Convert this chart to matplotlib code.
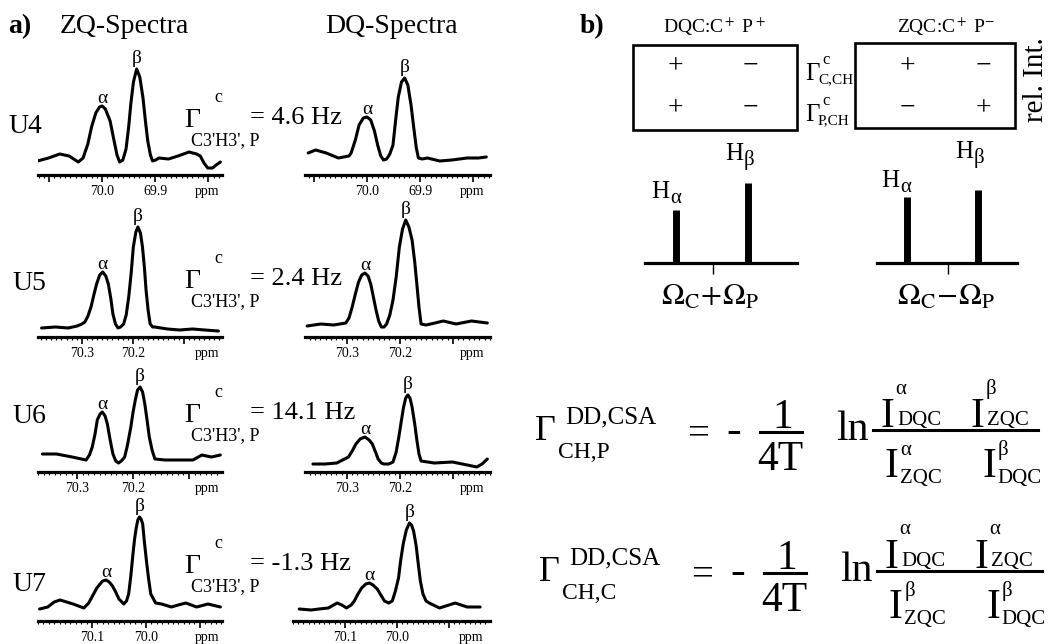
import numpy as np
import matplotlib.pyplot as plt
from matplotlib.patches import Rectangle
from matplotlib.ticker import MultipleLocator

plt.rcParams['font.family'] = ['Liberation Serif', 'DejaVu Serif']
plt.rcParams['mathtext.fontset'] = 'stix'

W, H = 1050, 644

# ------------------------------------------------------------
# data (ppm, intensity in px above axis)
# ------------------------------------------------------------
rows = ['U4', 'U5', 'U6', 'U7']
gamma_hz = ['4.6', '2.4', '14.1', '-1.3']
tick_text = [['70.0', '69.9'], ['70.3', '70.2'], ['70.3', '70.2'], ['70.1', '70.0']]

zq_u4_ppm = [70.122, 70.101, 70.080, 70.0625, 70.045, 70.036, 70.027, 70.020, 70.012, 70.005,
             70.000, 69.994, 69.985, 69.979, 69.972, 69.967, 69.961, 69.955, 69.950, 69.946,
             69.941, 69.935, 69.929, 69.923, 69.918, 69.914, 69.909, 69.905, 69.899, 69.893,
             69.875, 69.857, 69.836, 69.822, 69.815, 69.808, 69.801, 69.792, 69.785, 69.777]
zq_u4_int = [14, 17, 21, 19, 13, 17, 31, 48, 62, 68,
             69, 66, 54, 38, 20, 13, 15, 26, 48, 71,
             93, 106, 98, 77, 52, 34, 20, 14, 15, 17,
             16, 19, 23, 21, 19, 12, 7, 7, 10, 13]

dq_u4_ppm = [70.111, 70.097, 70.077, 70.054, 70.034, 70.030, 70.022, 70.015, 70.007, 70.000,
             69.993, 69.986, 69.980, 69.974, 69.969, 69.963, 69.957, 69.951, 69.946, 69.941,
             69.935, 69.929, 69.923, 69.917, 69.912, 69.907, 69.903, 69.896, 69.886, 69.863,
             69.840, 69.811, 69.790, 69.775]
dq_u4_int = [22, 25, 22, 17, 19, 22, 35, 50, 57, 58,
             55, 44, 30, 19, 15, 16, 21, 30, 55, 78,
             93, 97, 90, 70, 48, 27, 17, 16, 17, 14,
             15, 17, 17, 18]

zq_u5_ppm = [70.379, 70.352, 70.327, 70.309, 70.300, 70.294, 70.288, 70.282, 70.276, 70.271,
             70.265, 70.259, 70.253, 70.248, 70.243, 70.239, 70.234, 70.229, 70.224, 70.218,
             70.213, 70.208, 70.203, 70.199, 70.194, 70.190, 70.185, 70.181, 70.177, 70.174,
             70.170, 70.166, 70.161, 70.157, 70.132, 70.108, 70.083, 70.059, 70.032]
zq_u5_int = [9, 10, 9, 11, 13, 15, 21, 30, 43, 53,
             62, 65, 61, 53, 38, 23, 13, 9, 10, 13,
             22, 40, 65, 90, 105, 110, 104, 90, 68, 47,
             27, 13, 10, 10, 8, 7, 8, 7, 6]

dq_u5_ppm = [70.375, 70.349, 70.325, 70.302, 70.296, 70.290, 70.284, 70.278, 70.272, 70.266,
             70.260, 70.255, 70.250, 70.245, 70.240, 70.235, 70.230, 70.225, 70.219, 70.213,
             70.207, 70.201, 70.195, 70.189, 70.183, 70.177, 70.172, 70.168, 70.164, 70.160,
             70.151, 70.142, 70.118, 70.094, 70.065, 70.035]
dq_u5_int = [11, 13, 12, 14, 19, 30, 43, 55, 62, 64,
             61, 53, 40, 27, 16, 10, 10, 13, 22, 37,
             60, 90, 108, 117, 110, 97, 75, 53, 30, 13,
             12, 13, 16, 13, 16, 14]

zq_u6_ppm = [70.362, 70.337, 70.309, 70.284, 70.278, 70.273, 70.268, 70.264, 70.259, 70.255,
             70.250, 70.246, 70.241, 70.236, 70.231, 70.226, 70.221, 70.215, 70.210, 70.204,
             70.200, 70.196, 70.192, 70.1875, 70.183, 70.179, 70.175, 70.171, 70.166, 70.161,
             70.143, 70.116, 70.093, 70.077, 70.060, 70.044]
zq_u6_int = [18, 18, 15, 12, 17, 25, 38, 52, 58, 60,
             56, 48, 32, 18, 11, 9, 11, 15, 27, 45,
             60, 72, 82, 85, 80, 68, 52, 35, 22, 13,
             12, 12, 12, 17, 15, 17]

dq_u6_ppm = [70.364, 70.341, 70.319, 70.297, 70.290, 70.283, 70.275, 70.266, 70.258, 70.252,
             70.246, 70.241, 70.235, 70.230, 70.221, 70.213, 70.207, 70.202, 70.197, 70.193,
             70.189, 70.185, 70.181, 70.177, 70.172, 70.168, 70.164, 70.160, 70.135, 70.101,
             70.073, 70.055, 70.045, 70.035]
dq_u6_int = [8, 8, 9, 15, 21, 28, 33, 35, 32, 28,
             20, 13, 9, 8, 8, 10, 20, 35, 52, 65,
             74, 77, 74, 65, 48, 32, 18, 11, 9, 10,
             7, 5, 8, 13]

zq_u7_ppm = [70.197, 70.182, 70.170, 70.159, 70.147, 70.135, 70.115, 70.106, 70.097, 70.091,
             70.085, 70.080, 70.074, 70.068, 70.062, 70.056, 70.050, 70.041, 70.036, 70.032,
             70.028, 70.024, 70.021, 70.018, 70.015, 70.012, 70.009, 70.006, 70.003, 69.999,
             69.995, 69.991, 69.982, 69.971, 69.953, 69.940, 69.926, 69.916, 69.906, 69.885,
             69.862]
zq_u7_int = [12, 14, 19, 21, 19, 17, 13, 18, 27, 33,
             37, 40, 41, 39, 35, 29, 22, 17, 20, 27,
             45, 67, 82, 93, 101, 104, 102, 97, 80, 60,
             42, 27, 18, 17, 14, 16, 18, 16, 14, 17,
             14]

dq_u7_ppm = [70.188, 70.165, 70.150, 70.132, 70.115, 70.106, 70.097, 70.088, 70.082, 70.075,
             70.068, 70.060, 70.053, 70.046, 70.038, 70.031, 70.024, 70.016, 70.009, 70.003,
             69.997, 69.993, 69.988, 69.982, 69.976, 69.972, 69.968, 69.963, 69.959, 69.955,
             69.950, 69.944, 69.938, 69.918, 69.888, 69.865, 69.840]
dq_u7_int = [12, 11, 12, 13, 18, 16, 13, 16, 20, 27,
             33, 37, 38, 36, 32, 26, 20, 18, 20, 30,
             43, 60, 77, 91, 98, 96, 90, 75, 57, 40,
             27, 20, 18, 13, 18, 14, 14]

zq_spectra = [(zq_u4_ppm, zq_u4_int), (zq_u5_ppm, zq_u5_int),
              (zq_u6_ppm, zq_u6_int), (zq_u7_ppm, zq_u7_int)]
dq_spectra = [(dq_u4_ppm, dq_u4_int), (dq_u5_ppm, dq_u5_int),
              (dq_u6_ppm, dq_u6_int), (dq_u7_ppm, dq_u7_int)]

zq_alpha = [70.000, 70.259, 70.255, 70.074]
zq_beta = [69.935, 70.190, 70.1875, 70.012]
dq_alpha = [70.000, 70.266, 70.266, 70.053]
dq_beta = [69.929, 70.189, 70.185, 69.976]

zq_lims = [(70.121, 69.774), (70.386, 70.025), (70.370, 70.041), (70.200, 69.859)]
dq_lims = [(70.117, 69.768), (70.379, 70.030), (70.379, 70.030), (70.200, 69.821)]

# panel b: stick spectra (offset from centre tick, relative intensity)
dqc_pos = [-37, 35]
dqc_int = [53, 80]
zqc_pos = [-41, 30]
zqc_int = [66, 73]

dqc_signs = [['+', '−'], ['+', '−']]
zqc_signs = [['+', '−'], ['−', '+']]

eq_sub = ['CH,P', 'CH,C']
eq_num = [[('α', 'DQC'), ('β', 'ZQC')], [('α', 'DQC'), ('α', 'ZQC')]]
eq_den = [[('α', 'ZQC'), ('β', 'DQC')], [('β', 'ZQC'), ('β', 'DQC')]]

# ------------------------------------------------------------
fig = plt.figure(figsize=(W / 100, H / 100), dpi=100)
fig.patch.set_facecolor('white')

SPEC_H = 125
axis_y = [175, 337, 472, 621]


def spectrum(x0, x1, y_base, lim, ppm, inten, labels, a_pk, b_pk, ppm_frac):
    ax = fig.add_axes([x0 / W, 1 - y_base / H, (x1 - x0) / W, SPEC_H / H])
    ppm = np.array(ppm)
    inten = np.array(inten)
    ax.plot(ppm, inten, color='black', lw=2.2,
            solid_joinstyle='round', solid_capstyle='round')
    ax.set_xlim(*lim)
    ax.set_ylim(0, SPEC_H)
    ax.patch.set_visible(False)
    for s in ['top', 'right', 'left']:
        ax.spines[s].set_visible(False)
    ax.spines['bottom'].set_linewidth(2.3)
    ax.set_yticks([])

    lo, hi = min(lim), max(lim)
    majors = np.round(np.arange(np.ceil(lo * 10) / 10, hi, 0.1), 1)
    ax.set_xticks(majors)
    ax.set_xticklabels([f'{m:.1f}' if f'{m:.1f}' in labels else '' for m in majors])
    ax.xaxis.set_minor_locator(MultipleLocator(0.01))
    ax.tick_params(axis='x', which='major', direction='out', length=5,
                   width=1.2, pad=2, labelsize=10)
    ax.tick_params(axis='x', which='minor', direction='out', length=2.2, width=0.8)
    ax.annotate('ppm', xy=(ppm_frac, 0), xycoords='axes fraction',
                xytext=(0, -7), textcoords='offset points',
                ha='center', va='top', fontsize=10)

    ia = np.argmin(np.abs(ppm - a_pk))
    ib = np.argmin(np.abs(ppm - b_pk))
    ax.text(ppm[ia], inten[ia] + 3, 'α', ha='center', va='baseline', fontsize=14)
    ax.text(ppm[ib], inten[ib] + 6, 'β', ha='center', va='baseline', fontsize=14)
    return ax


for i in range(4):
    zp, zi = zq_spectra[i]
    dp, di = dq_spectra[i]
    spectrum(38, 222, axis_y[i], zq_lims[i], zp, zi, tick_text[i],
             zq_alpha[i], zq_beta[i], 0.918)
    dx0 = 293 if i == 3 else 305
    spectrum(dx0, 490, axis_y[i], dq_lims[i], dp, di, tick_text[i],
             dq_alpha[i], dq_beta[i], 0.905)


def sticks(x0, x1, pos, inten, xlim):
    ax = fig.add_axes([x0 / W, 1 - 263 / H, (x1 - x0) / W, 100 / H])
    ax.vlines(pos, 0, inten, color='black', lw=5.0)
    ax.set_xlim(*xlim)
    ax.set_ylim(0, 100)
    ax.patch.set_visible(False)
    for s in ['top', 'right', 'left']:
        ax.spines[s].set_visible(False)
    ax.spines['bottom'].set_linewidth(2.3)
    ax.set_yticks([])
    ax.set_xticks([0])
    ax.set_xticklabels([''])
    ax.tick_params(axis='x', direction='out', length=8, width=1.0)


sticks(645, 797, dqc_pos, dqc_int, (-68, 84))
sticks(877, 1017, zqc_pos, zqc_int, (-71, 69))

# ------------------------------------------------------------
# overlay for text and frames (pixel coordinates)
# ------------------------------------------------------------
ov = fig.add_axes([0, 0, 1, 1])
ov.set_xlim(0, W)
ov.set_ylim(H, 0)
ov.axis('off')
ov.patch.set_visible(False)


def txt(x, y, s, size, ha='left', va='baseline', **kw):
    ov.text(x, y, s, fontsize=size, ha=ha, va=va, color='black', **kw)


# panel a headings
txt(8, 33, 'a)', 20, weight='bold')
txt(60, 33, 'ZQ-Spectra', 20)
txt(325, 33, 'DQ-Spectra', 20)

u_base = [133, 290, 423, 591]
g_base = [127, 288, 422, 573]
for i in range(4):
    txt(8 if i == 0 else 12, u_base[i], rows[i], 20)
    b = g_base[i]
    txt(184, b, 'Γ', 20)
    txt(214, b - 25, 'c', 13)
    txt(191, b + 18, "C3'H3', P", 13)
    txt(250, b - 3, f'= {gamma_hz[i]} Hz', 19)

# panel b
txt(580, 33, 'b)', 20, weight='bold')
txt(714, 33, 'DQC:C$^+$ P$^+$', 14, ha='center')
txt(946, 33, 'ZQC:C$^+$ P$^{-}$', 14, ha='center')

ov.add_patch(Rectangle((633, 45), 164, 85, fill=False, lw=1.9, ec='black'))
ov.add_patch(Rectangle((855, 43), 160, 85, fill=False, lw=1.9, ec='black'))

for r, yy in enumerate([66, 108]):
    for c, xx in enumerate([675, 750]):
        txt(xx, yy + 7, dqc_signs[r][c], 20, ha='center')
    for c, xx in enumerate([907, 983]):
        txt(xx, yy + 7, zqc_signs[r][c], 20, ha='center')

for yy, sb in [(80, 'C,CH'), (121, 'P,CH')]:
    txt(805, yy, 'Γ', 18)
    txt(822, yy - 16, 'c', 12)
    txt(818, yy + 3, sb, 11)

txt(1036, 80, 'rel. Int.', 21, ha='center', va='center', rotation=90)

# stick labels H with greek subscripts
for hx, hb, g in [(651, 198, 'α'), (725, 160, 'β'), (881, 187, 'α'), (955, 158, 'β')]:
    txt(hx, hb, 'H', 18)
    txt(hx + 19, hb + 5, g, 15)

txt(710, 305, r'$\Omega_{\rm C}\!+\!\Omega_{\rm P}$', 22, ha='center')
txt(946, 305, r'$\Omega_{\rm C}\!-\!\Omega_{\rm P}$', 22, ha='center')


def equation(dx, dy, sub, num, den):
    txt(535 + dx, 440 + dy, 'Γ', 26)
    txt(565 + dx, 423 + dy, 'DD,CSA', 18)
    txt(558 + dx, 458 + dy, sub, 17)
    txt(698 + dx, 444 + dy, '=', 28, ha='center')
    txt(734 + dx, 443 + dy, '-', 32, ha='center')
    txt(783 + dx, 428 + dy, '1', 30, ha='center')
    ov.plot([760 + dx, 802 + dx], [432 + dy] * 2, color='black', lw=2.2)
    txt(780 + dx, 470 + dy, '4T', 30, ha='center')
    txt(836 + dx, 440 + dy, 'ln', 30)
    ov.plot([873 + dx, 1038 + dx], [430 + dy] * 2, color='black', lw=2.2)
    for (sup, sb), ix in zip(num, [880, 970]):
        txt(ix + dx, 427 + dy, 'I', 30)
        txt(ix + 21 + dx, 389 + dy, sup, 15, ha='center', va='center')
        txt(ix + 17 + dx, 425 + dy, sb, 15)
    for (sup, sb), ix in zip(den, [885, 982]):
        txt(ix + dx, 477 + dy, 'I', 30)
        txt(ix + 21 + dx, 450 + dy, sup, 15, ha='center', va='center')
        txt(ix + 15 + dx, 483 + dy, sb, 15)


equation(0, 0, eq_sub[0], eq_num[0], eq_den[0])
equation(4, 141, eq_sub[1], eq_num[1], eq_den[1])

fig.savefig('out.png', dpi=100, facecolor='white')
